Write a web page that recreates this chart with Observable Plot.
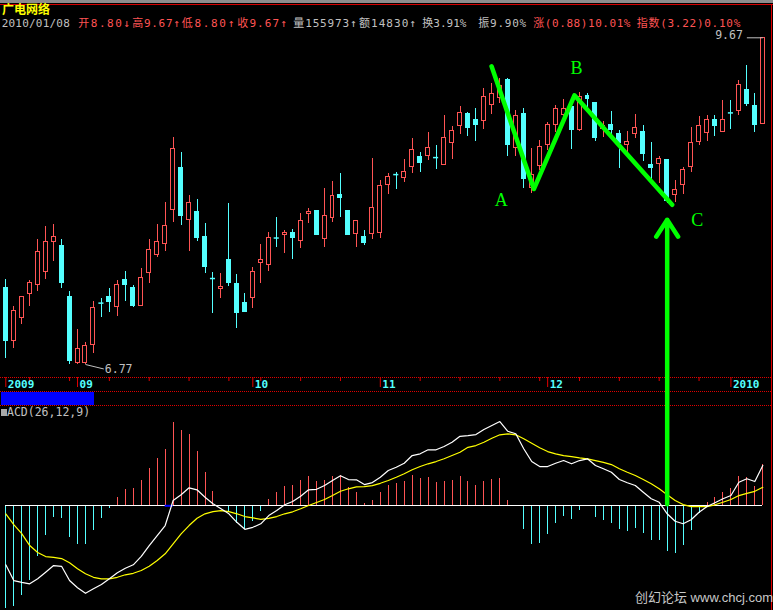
<!DOCTYPE html>
<html><head><meta charset="utf-8">
<script src="https://cdn.jsdelivr.net/npm/d3@7"></script>
<script src="https://cdn.jsdelivr.net/npm/@observablehq/plot@0.6"></script>
<style>
html,body{margin:0;padding:0;background:#000;}
#wrap{position:relative;width:773px;height:610px;background:#000;overflow:hidden;font-family:"DejaVu Sans Mono","Noto Sans CJK SC",monospace;}
.hl{position:absolute;left:0;width:771px;height:0;border-top:1px dotted #e00000;}
.seg{position:absolute;top:18px;font-size:11px;line-height:11px;white-space:nowrap;}
.g{color:#c0c0c0}.r{color:#ff5454}
</style></head><body><div id="wrap"></div>
<script>
// ---------- data ----------
const opens = [7.360,6.948,7.126,7.315,7.387,7.493,7.735,7.707,7.289,6.783,6.783,6.918,7.239,7.289,7.211,7.423,7.360,7.220,7.477,7.633,7.718,8.013,8.393,7.923,7.998,7.783,7.436,7.355,7.589,7.393,7.241,7.283,7.559,7.546,7.772,7.794,7.817,7.743,7.975,8.007,7.760,7.942,8.148,8.007,7.806,7.783,7.803,7.817,8.231,8.329,8.295,8.395,8.494,8.496,8.485,8.414,8.618,8.779,8.899,8.841,8.827,8.988,9.053,9.239,8.574,8.902,8.205,8.411,8.603,8.792,8.892,8.964,8.747,9.070,9.003,8.754,8.795,8.710,8.599,8.707,8.728,8.420,8.426,8.466,8.142,8.235,8.395,8.634,8.716,8.841,8.726,8.909,8.928,9.136,8.981,8.80];
const highs = [7.425,7.210,7.286,7.423,7.758,7.868,7.886,7.758,7.328,7.036,6.936,7.249,7.278,7.358,7.423,7.491,7.382,7.521,7.758,7.886,8.077,8.669,8.531,8.140,8.110,7.894,7.483,7.474,8.069,7.466,7.312,7.524,7.715,7.817,7.946,7.834,7.843,7.981,8.025,8.007,8.202,8.265,8.338,8.007,7.917,7.834,8.475,8.271,8.335,8.347,8.466,8.662,8.528,8.719,8.596,8.880,8.776,8.970,8.909,8.948,9.146,9.200,9.246,9.249,8.931,8.950,8.568,8.643,8.818,8.981,9.037,9.030,9.106,9.102,9.013,8.827,8.921,8.735,8.728,8.892,8.783,8.624,8.496,8.466,8.271,8.395,8.767,8.873,8.882,8.882,9.030,9.027,9.229,9.377,9.097,9.67];
const lows = [6.813,6.888,7.071,7.212,7.330,7.428,7.573,7.355,6.770,6.77,6.77,6.854,7.126,7.165,7.134,7.251,7.205,7.220,7.395,7.608,7.658,7.905,7.877,7.658,7.743,7.477,7.157,7.275,7.371,7.041,7.165,7.196,7.395,7.493,7.692,7.642,7.592,7.684,7.897,7.791,7.692,7.905,7.949,7.791,7.692,7.707,7.760,7.772,8.151,8.196,8.259,8.340,8.349,8.454,8.377,8.414,8.469,8.700,8.684,8.636,8.750,8.889,9.000,8.496,8.496,8.205,8.155,8.365,8.549,8.722,8.834,8.561,8.731,8.964,8.636,8.674,8.659,8.386,8.496,8.665,8.448,8.289,8.250,8.069,8.080,8.151,8.349,8.599,8.631,8.684,8.726,8.750,8.880,8.967,8.716,8.80];
const closes = [6.948,7.178,7.286,7.398,7.653,7.738,7.783,7.403,6.798,6.884,6.906,7.199,7.239,7.251,7.382,7.387,7.218,7.439,7.670,7.738,7.874,8.565,7.957,8.075,7.769,7.526,7.436,7.368,7.401,7.165,7.173,7.491,7.589,7.775,7.772,7.817,7.769,7.920,7.998,7.800,7.961,8.137,8.115,7.800,7.917,7.726,8.031,8.226,8.308,8.329,8.353,8.556,8.432,8.574,8.485,8.669,8.735,8.909,8.760,8.788,9.067,9.097,9.179,8.599,8.882,8.286,8.329,8.586,8.792,8.948,8.948,8.741,9.063,9.047,8.665,8.786,8.747,8.618,8.631,8.767,8.521,8.386,8.472,8.095,8.190,8.371,8.622,8.783,8.841,8.783,8.841,8.909,9.186,8.997,8.788,9.67];

// MACD(26,12,9): histogram, DIF, DEA
const macdBar = [-0.412,-0.404,-0.360,-0.300,-0.204,-0.120,-0.048,-0.052,-0.128,-0.156,-0.156,-0.100,-0.052,-0.012,0.032,0.064,0.068,0.100,0.148,0.188,0.224,0.332,0.300,0.284,0.216,0.132,0.056,0.000,-0.024,-0.072,-0.096,-0.064,-0.024,0.024,0.052,0.076,0.080,0.100,0.116,0.096,0.100,0.116,0.120,0.072,0.052,0.008,0.020,0.052,0.080,0.088,0.096,0.120,0.108,0.112,0.092,0.096,0.100,0.116,0.096,0.080,0.096,0.104,0.108,0.020,0.000,-0.096,-0.156,-0.152,-0.116,-0.072,-0.044,-0.056,-0.020,-0.004,-0.048,-0.060,-0.072,-0.096,-0.104,-0.092,-0.112,-0.140,-0.140,-0.184,-0.192,-0.160,-0.100,-0.032,0.012,0.032,0.052,0.068,0.116,0.112,0.076,0.164];
const dif = [-0.236,-0.299,-0.306,-0.312,-0.292,-0.266,-0.239,-0.242,-0.299,-0.328,-0.350,-0.332,-0.315,-0.292,-0.268,-0.250,-0.236,-0.202,-0.159,-0.119,-0.079,0.021,0.044,0.072,0.064,0.034,0.008,-0.012,-0.032,-0.066,-0.094,-0.086,-0.072,-0.039,-0.019,0.004,0.017,0.038,0.064,0.066,0.081,0.101,0.120,0.105,0.104,0.085,0.093,0.114,0.141,0.154,0.170,0.201,0.208,0.224,0.224,0.237,0.254,0.278,0.281,0.285,0.305,0.321,0.337,0.298,0.288,0.228,0.177,0.157,0.157,0.170,0.181,0.168,0.181,0.188,0.161,0.148,0.134,0.105,0.092,0.081,0.054,0.028,0.014,-0.032,-0.062,-0.072,-0.056,-0.026,-0.003,0.012,0.028,0.041,0.094,0.108,0.097,0.161];
const dea = [-0.032,-0.075,-0.111,-0.159,-0.187,-0.203,-0.206,-0.211,-0.228,-0.252,-0.272,-0.286,-0.292,-0.292,-0.286,-0.276,-0.270,-0.259,-0.242,-0.219,-0.192,-0.152,-0.112,-0.079,-0.050,-0.032,-0.023,-0.019,-0.023,-0.032,-0.043,-0.048,-0.054,-0.050,-0.043,-0.032,-0.024,-0.012,0.001,0.013,0.025,0.041,0.058,0.068,0.076,0.077,0.081,0.090,0.101,0.114,0.128,0.144,0.157,0.168,0.177,0.188,0.201,0.214,0.234,0.241,0.254,0.270,0.284,0.288,0.284,0.268,0.250,0.232,0.217,0.208,0.201,0.197,0.192,0.188,0.181,0.174,0.165,0.148,0.134,0.121,0.105,0.088,0.068,0.044,0.021,0.005,-0.003,-0.003,-0.003,0.004,0.014,0.025,0.041,0.050,0.058,0.074];

// date axis: candle index of month starts and of weekly ticks
const monthIdx = [0, 9, 31, 47, 68, 91];
const monthLabels = ["2009", "09", "10", "11", "12", "2010"];
const weekIdx = [3, 8, 13, 18, 23, 28, 32, 37, 42, 52, 57, 62, 67, 72, 77, 82, 87];

// hand-drawn A-B-C annotation (candle index, price)
const zigK = [60.96, 66.27, 71.36, 83.63];
const zigP = [9.374, 8.199, 9.082, 8.059];
const abcNames = ["A", "B", "C"];
const abcK = [62.17, 71.63, 86.77];
const abcP = [8.095, 9.354, 7.928];
const arrowK = 83;
const arrowFrom = 5.813, arrowTo = 7.928;

// extreme price labels
const extremeText = ["9.67", "6.77"];

// ---------- build ----------
const RED = "#ff5454", CYAN = "#54ffff", GREEN = "#00ff00", GRAY = "#c0c0c0", FRAME = "#e00000";
const idx = d3.range(opens.length);
const candles = idx.map(i => ({k: i, o: opens[i], h: highs[i], l: lows[i], c: closes[i]}));
const up = candles.filter(d => d.c > d.o);
const down = candles.filter(d => d.c < d.o);
const doji = candles.filter(d => d.c === d.o);
const macd = idx.map(i => ({k: i, h: macdBar[i], dif: dif[i], dea: dea[i]}));
const zig = zigK.map((k, i) => ({k, p: zigP[i]}));
const abc = abcNames.map((n, i) => ({n, k: abcK[i], p: abcP[i]}));
const months = monthIdx.map((k, i) => ({k, label: monthLabels[i]}));
const leaders = [
  {x1: 93, y1: 9.67, x2: 95, y2: 9.67},
  {x1: 10, y1: 6.77, x2: 12.3, y2: 6.737}
];
const hiLabel = [{k: 93, p: 9.67, t: extremeText[0]}];
const loLabel = [{k: 12.3, p: 6.737, t: extremeText[1]}];

const wrap = document.getElementById("wrap");
function div(style, html, cls) {
  const e = document.createElement("div");
  if (cls) e.className = cls;
  e.setAttribute("style", style);
  if (html != null) e.innerHTML = html;
  wrap.appendChild(e);
  return e;
}

// frame pieces (behind the plots)
div("position:absolute;left:0;top:0;width:773px;height:3px;background:#8c8c8c;");
div("position:absolute;left:0;top:4px;width:773px;height:1px;background:#d40000;");
div("top:377px", null, "hl");
div("top:391px", null, "hl");
div("top:405px", null, "hl");
div("position:absolute;left:1px;top:392px;width:93px;height:13px;background:#0000ff;");
div("position:absolute;left:771px;top:5px;width:1px;height:605px;background:#e00000;");

const xOpt = {domain: [0, 95], range: [5.3, 762.3], axis: null};
const svgStyle = top => ({background: "transparent", overflow: "visible", position: "absolute", left: "0px", top: top + "px"});

// MACD panel
const macdPlot = Plot.plot({
  width: 773, height: 610, margin: 0,
  style: svgStyle(0),
  x: xOpt,
  y: {domain: [-0.4, 0.4], range: [605.3, 405.3], axis: null},
  marks: [
    Plot.ruleX(macd.filter(d => d.h > 0), {x: "k", y1: 0, y2: "h", stroke: RED, shapeRendering: "crispEdges"}),
    Plot.ruleX(macd.filter(d => d.h < 0), {x: "k", y1: 0, y2: "h", stroke: CYAN, shapeRendering: "crispEdges"}),
    Plot.ruleY([0], {x1: 0, x2: 95, stroke: "#ffffff", shapeRendering: "crispEdges"}),
    Plot.ruleY([0], {x1: 20, x2: 21, stroke: "#0000ff", strokeWidth: 2}),
    Plot.line(macd, {x: "k", y: "dea", stroke: "#ffff00", strokeWidth: 1.2}),
    Plot.line(macd, {x: "k", y: "dif", stroke: "#ffffff", strokeWidth: 1.2})
  ]
});
wrap.appendChild(macdPlot);

// price panel
const pricePlot = Plot.plot({
  width: 773, height: 610, margin: 0,
  style: svgStyle(0),
  x: xOpt,
  y: {type: "log", domain: [6.77, 9.67], range: [364, 37.3], axis: null},
  marks: [
    Plot.ruleX(up, {x: "k", y1: "l", y2: "h", stroke: RED, shapeRendering: "crispEdges"}),
    Plot.ruleX(down.concat(doji), {x: "k", y1: "l", y2: "h", stroke: CYAN, shapeRendering: "crispEdges"}),
    Plot.rect(up, {x1: d => d.k - 0.25, x2: d => d.k + 0.25, y1: "o", y2: "c", fill: "#000", stroke: RED, shapeRendering: "crispEdges"}),
    Plot.rect(down, {x1: d => d.k - 0.25, x2: d => d.k + 0.25, y1: "o", y2: "c", fill: CYAN, stroke: CYAN, shapeRendering: "crispEdges"}),
    Plot.ruleY(doji, {y: "o", x1: d => d.k - 0.32, x2: d => d.k + 0.32, stroke: CYAN, strokeWidth: 1.5}),
    Plot.link(leaders, {x1: "x1", y1: "y1", x2: "x2", y2: "y2", stroke: GRAY}),
    Plot.text(hiLabel, {x: "k", y: "p", text: "t", textAnchor: "end", dx: -4, dy: -2, fill: GRAY, fontSize: 11.5, fontFamily: "DejaVu Sans Mono", lineAnchor: "middle"}),
    Plot.text(loLabel, {x: "k", y: "p", text: "t", textAnchor: "start", dx: 1, fill: GRAY, fontSize: 11.5, fontFamily: "DejaVu Sans Mono", lineAnchor: "middle"}),
    Plot.line(zig, {x: "k", y: "p", stroke: GREEN, strokeWidth: 4.5, strokeLinejoin: "round", strokeLinecap: "round"}),
    Plot.text(abc, {x: "k", y: "p", text: "n", fill: GREEN, fontSize: 18, fontFamily: "Liberation Serif", lineAnchor: "middle"}),
    Plot.arrow([{k: arrowK, a: arrowFrom, b: arrowTo}], {x1: "k", y1: "a", x2: "k", y2: "b", stroke: GREEN, strokeWidth: 4.5, headLength: 6.7, headAngle: 66})
  ]
});
wrap.appendChild(pricePlot);

// date strip
const stripPlot = Plot.plot({
  width: 773, height: 14, margin: 0,
  style: svgStyle(377),
  x: xOpt,
  marks: [
    Plot.tickX(weekIdx, {x: d => d, stroke: FRAME, insetBottom: 10}),
    Plot.tickX(months, {x: "k", stroke: FRAME, insetBottom: 4}),
    Plot.text(months, {x: "k", text: "label", textAnchor: "start", dx: 2, fill: CYAN, fontSize: 11, fontWeight: "bold", fontFamily: "DejaVu Sans Mono", lineAnchor: "middle"})
  ]
});
wrap.appendChild(stripPlot);

// header texts
div("position:absolute;left:2px;top:3px;font-size:12px;line-height:12px;font-weight:bold;color:#ffff00;font-family:'Noto Sans CJK SC',sans-serif;white-space:nowrap;", "广电网络");
// [left, right, colour class, text]
const segs = [
  [1.7, 70, "g", "2010/01/08"],
  [78.3, 131.5, "r", "开8.80↓"],
  [132.3, 180.5, "r", "高9.67↑"],
  [181.7, 236, "r", "低8.80↑"],
  [237.3, 288, "r", "收9.67↑"],
  [293.3, 357.5, "g", "量155973↑"],
  [359, 417, "g", "额14830↑"],
  [422.3, 464, "g", "换3.91%"],
  [478.3, 527, "g", "振9.90%"],
  [533.3, 631, "r", "涨(0.88)10.01%"],
  [636.7, 741, "r", "指数(3.22)0.10%"]
];
segs.forEach(([x, x2, c, t]) => {
  const e = div("left:" + x + "px", t, "seg " + c);
  const w = e.getBoundingClientRect().width;
  const n = [...t].length;
  const ls = Math.max(0, (x2 - x - w) / n);
  e.style.letterSpacing = ls.toFixed(2) + "px";
});

// MACD title
div("position:absolute;left:1px;top:409px;width:6px;height:7px;background:#a8a8a8;");
div("position:absolute;left:7px;top:406px;font-size:11.5px;line-height:12px;color:#c0c0c0;white-space:nowrap;", "ACD(26,12,9)");

// watermark
div("position:absolute;left:635px;top:590px;font-size:13px;line-height:15px;color:#c8c8c8;white-space:nowrap;font-family:'Liberation Sans','Noto Sans CJK SC',sans-serif;", "创幻论坛 www.chcj.com");
</script></body></html>
